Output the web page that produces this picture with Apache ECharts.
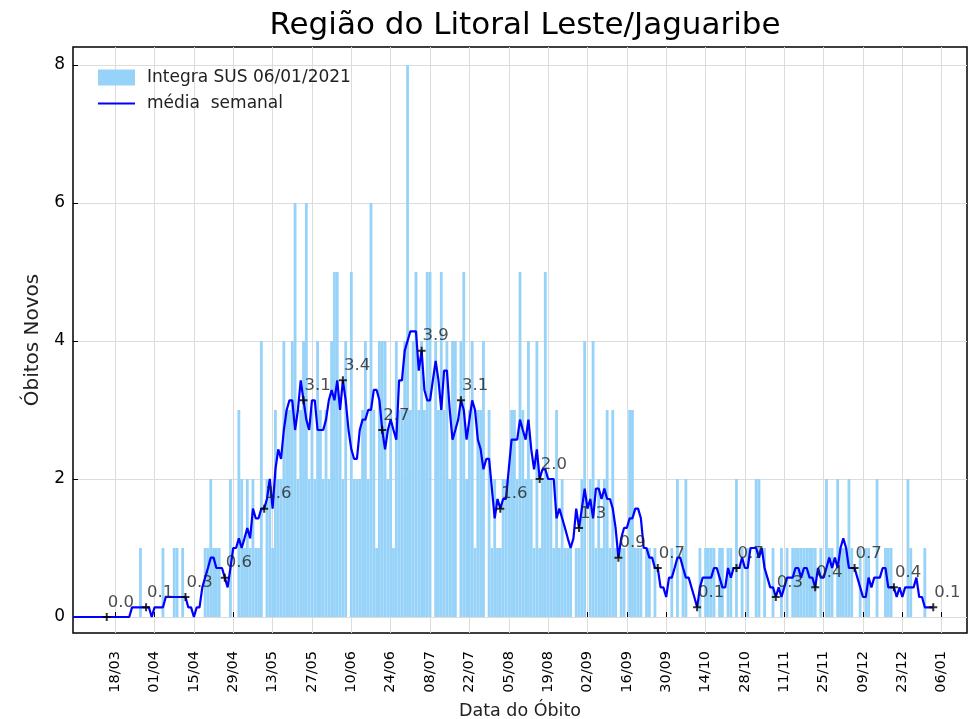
<!DOCTYPE html>
<html>
<head>
<meta charset="utf-8">
<script src="https://cdn.jsdelivr.net/npm/echarts@6/dist/echarts.min.js"></script>
<style>
  html, body { margin: 0; padding: 0; background: #fff; }
  #chart { width: 973px; height: 719px; }
</style>
</head>
<body>
<div id="chart"></div>
<script>
// Daily series runs from 03/03/2020 to 15/01/2021 (one category per day)
const startDay = Date.UTC(2020, 2, 3);
const dayCount = 319;

// Óbitos novos por dia (Integra SUS)
const dailyDeaths = [
  0,0,0,0,0,0,0,0,0,0,
  0,0,0,0,0,0,0,0,0,0,
  0,0,0,0,1,0,0,0,0,0,
  0,0,1,0,0,0,1,1,0,1,
  0,0,0,0,0,0,0,1,1,2,
  1,1,1,0,0,0,2,0,0,3,
  2,1,2,1,2,1,1,4,0,2,
  2,1,3,2,2,4,3,3,4,6,
  2,3,4,6,2,3,2,4,3,2,
  3,2,4,5,5,3,2,4,0,5,
  2,2,2,3,4,2,6,3,1,4,
  4,4,2,3,1,4,3,3,4,8,
  3,4,5,3,4,3,5,5,0,4,
  3,5,3,4,2,4,4,0,4,5,
  2,3,4,1,3,3,4,0,3,1,
  2,1,1,2,2,2,3,3,2,5,
  3,2,4,2,1,4,1,2,5,2,
  2,1,3,1,2,1,1,1,0,1,
  1,2,4,0,2,4,1,2,1,2,
  3,1,3,1,0,1,1,0,3,3,
  1,1,1,0,1,1,0,1,0,0,
  0,0,0,1,0,2,0,1,2,0,
  0,0,0,1,0,1,1,1,1,0,
  1,1,0,1,1,0,2,0,1,0,
  1,0,0,2,2,0,1,0,0,1,
  0,0,1,0,1,0,1,1,1,1,
  1,1,1,1,1,0,1,0,2,1,
  1,0,2,1,1,1,2,1,0,0,
  1,0,1,1,0,0,2,0,0,1,
  1,1,0,0,0,0,0,2,1,0,
  0,0,0,1,0,0,0,0,0,0,
  0,0,0,0,0,0,0,0,0
];

// Média semanal (janela centrada de 7 dias), até 03/01/2021
const weeklyMean = [
  0,0,0,0,0,0,0,0,0,0,
  0,0,0,0,0,0,0,0,0,0,
  0,0.14,0.14,0.14,0.14,0.14,0.14,0.14,0,0.14,
  0.14,0.14,0.14,0.29,0.29,0.29,0.29,0.29,0.29,0.29,
  0.29,0.14,0.14,0,0.14,0.14,0.43,0.57,0.71,0.86,
  0.86,0.71,0.71,0.71,0.57,0.43,0.71,1.0,1.0,1.14,
  1.0,1.14,1.29,1.14,1.57,1.43,1.43,1.57,1.57,1.71,
  2.0,1.57,2.14,2.43,2.29,2.71,3.0,3.14,3.14,2.71,
  3.0,3.43,3.14,2.86,2.71,3.14,3.14,2.71,2.71,2.71,
  2.86,3.14,3.29,3.14,3.43,3.0,3.43,3.14,2.71,2.43,
  2.29,2.29,2.71,2.86,2.86,3.0,3.0,3.29,3.29,3.14,
  2.71,2.43,2.71,2.86,2.71,2.57,3.43,3.43,3.86,4.0,
  4.14,4.14,4.14,3.57,3.86,3.29,3.14,3.14,3.43,3.71,
  3.43,3.0,3.57,3.57,3.0,2.57,2.71,2.86,3.14,3.0,
  2.57,2.86,3.14,3.0,2.57,2.43,2.14,2.29,2.29,1.86,
  1.43,1.71,1.57,1.71,1.71,2.14,2.57,2.57,2.57,2.86,
  2.71,2.57,2.86,2.43,2.14,2.43,2.0,2.14,2.14,2.0,
  2.0,2.0,1.43,1.57,1.43,1.29,1.14,1.0,1.14,1.57,
  1.29,1.57,1.86,1.57,1.71,1.43,1.86,1.86,1.71,1.86,
  1.71,1.71,1.57,1.29,0.86,1.14,1.29,1.29,1.43,1.43,
  1.57,1.57,1.43,1.0,1.0,0.86,0.86,0.71,0.71,0.43,
  0.43,0.29,0.57,0.57,0.71,0.86,0.86,0.71,0.57,0.57,
  0.43,0.29,0.14,0.43,0.57,0.57,0.57,0.57,0.71,0.71,
  0.57,0.43,0.43,0.71,0.57,0.71,0.71,0.71,0.86,0.71,
  0.71,1.0,1.0,1.0,0.86,1.0,0.71,0.57,0.43,0.43,
  0.29,0.43,0.29,0.43,0.57,0.57,0.57,0.71,0.71,0.57,
  0.71,0.71,0.57,0.57,0.43,0.71,0.57,0.57,0.71,0.86,
  0.71,0.86,0.71,1.0,1.14,1.0,0.71,0.71,0.71,0.57,
  0.43,0.29,0.29,0.57,0.43,0.57,0.57,0.57,0.71,0.71,
  0.43,0.43,0.43,0.29,0.43,0.29,0.43,0.43,0.43,0.43,
  0.57,0.29,0.29,0.14,0.14,0.14,0.14
];

// Rótulos do eixo x (a cada 14 dias)
const tickDates = ['18/03','01/04','15/04','29/04','13/05','27/05','10/06','24/06','08/07','22/07','05/08',
  '19/08','02/09','16/09','30/09','14/10','28/10','11/11','25/11','09/12','23/12','06/01'];

// Dias com a média anotada
const markerDates = ['15/03','29/03','12/04','26/04','10/05','24/05','07/06','21/06','05/07','19/07','02/08',
  '16/08','30/08','13/09','27/09','11/10','25/10','08/11','22/11','06/12','20/12','03/01'];

const yTicks = [0, 2, 4, 6, 8];

const pad = n => String(n).padStart(2, '0');
const days = [];
for (let i = 0; i < dayCount; i++) {
  const d = new Date(startDay + i * 86400000);
  days.push(pad(d.getUTCDate()) + '/' + pad(d.getUTCMonth() + 1));
}
const tickSet = new Set(tickDates);
const onTick = (idx, val) => tickSet.has(val !== undefined ? val : days[idx]);

const markerData = markerDates.map(dt => [dt, weeklyMean[days.indexOf(dt)]]);

const FONT = 'DejaVu Sans';
const chart = echarts.init(document.getElementById('chart'), null, { renderer: 'canvas' });
chart.setOption({
  animation: false,
  backgroundColor: '#fff',
  title: {
    text: 'Região do Litoral Leste/Jaguaribe',
    left: 520, top: 5, textAlign: 'center',
    textStyle: { fontFamily: FONT, fontSize: 31, fontWeight: 'normal', color: '#000' }
  },
  legend: {
    orient: 'vertical', left: 97, top: 69, padding: 0, itemWidth: 37, itemHeight: 16, itemGap: 9,
    textStyle: { fontFamily: FONT, fontSize: 17, color: '#222', padding: [0, 0, 0, 7] },
    data: [
      { name: 'Integra SUS 06/01/2021', icon: 'rect' },
      { name: 'média  semanal', itemStyle: { color: 'rgba(0,0,0,0)', borderWidth: 0 } }
    ]
  },
  grid: {
    left: 73, right: 6, top: 47, bottom: 86, outerBoundsMode: 'none', containLabel: false,
    show: true, borderColor: '#000', borderWidth: 1.5
  },
  xAxis: {
    type: 'category', data: days, boundaryGap: false,
    name: 'Data do Óbito', nameLocation: 'middle', nameGap: 69,
    nameTextStyle: { fontFamily: FONT, fontSize: 17.5, color: '#222' },
    axisLine: { show: false },
    axisTick: { show: true, inside: true, length: 5, interval: onTick, lineStyle: { color: '#000' } },
    axisLabel: { interval: onTick, rotate: 90, margin: 18, fontFamily: FONT, fontSize: 14.5, color: '#000' },
    splitLine: { show: true, interval: onTick, lineStyle: { color: '#dcdcdc', width: 1 } }
  },
  yAxis: {
    type: 'value', min: -0.232, max: 8.26,
    name: 'Óbitos Novos', nameLocation: 'middle', nameGap: 29,
    nameTextStyle: { fontFamily: FONT, fontSize: 20, color: '#222' },
    axisLine: { show: false },
    axisTick: { show: true, inside: true, length: 5, customValues: yTicks, lineStyle: { color: '#000' } },
    axisLabel: { customValues: yTicks, margin: 8, fontFamily: FONT, fontSize: 17, color: '#000' },
    splitLine: { show: true, lineStyle: { color: '#dcdcdc', width: 1 } }
  },
  series: [
    {
      name: 'Integra SUS 06/01/2021', type: 'bar', data: dailyDeaths,
      barWidth: '100%', barCategoryGap: '0%',
      itemStyle: { color: '#97d3f9' }, z: 1
    },
    {
      name: 'média  semanal', type: 'line', data: weeklyMean,
      symbol: 'none', lineStyle: { color: '#0000ff', width: 2.2 }, itemStyle: { color: '#0000ff' }, z: 3
    },
    {
      name: 'marcadores', type: 'scatter', data: markerData,
      symbol: 'path://M3,0H5V3H8V5H5V8H3V5H0V3H3Z', symbolSize: 8,
      itemStyle: { color: '#000' }, z: 4,
      label: {
        show: true, position: [5, -19], align: 'left', verticalAlign: 'top',
        fontFamily: FONT, fontSize: 16.5, color: '#222',
        formatter: p => p.value[1].toFixed(1)
      }
    }
  ]
});
</script>
</body>
</html>
